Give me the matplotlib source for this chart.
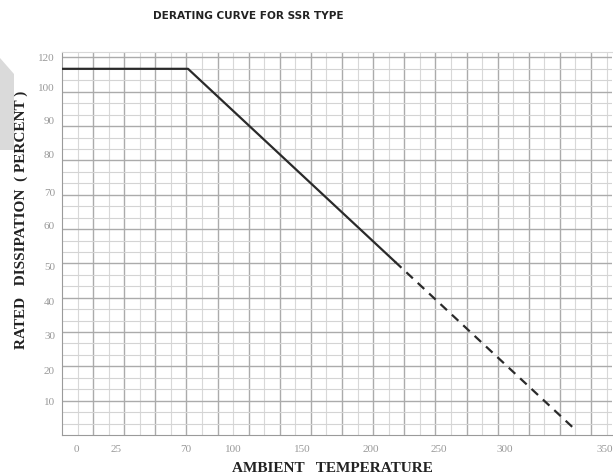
import matplotlib
matplotlib.use("Agg")
import matplotlib.pyplot as plt
from matplotlib.patches import Polygon
import numpy as np

# derating curve (axis units follow the printed grid)
temp_solid = [-10, 71, 204]
pct_solid = [106.7, 106.7, 50.5]
temp_dash = [204, 320]
pct_dash = [50.5, 1.5]

# printed tick labels and where they sit on the grid
x_labels = ["0", "25", "70", "100", "150", "200", "250", "300", "350"]
x_label_pos = [-1, 24.6, 69.5, 100.3, 144.5, 188.7, 232.3, 274.6, 338.7]
y_labels = ["10", "20", "30", "40", "50", "60", "70", "80", "90", "100", "120"]
y_label_pos = [9.9, 18.9, 28.9, 39, 49, 61, 70.8, 81.6, 91.5, 101.4, 110]

fig = plt.figure(figsize=(6.13, 4.74), dpi=100)

# faint watermark piece on the left edge of the scan
fig.patches.append(Polygon([(0, 1 - 58 / 474), (14 / 613, 1 - 74 / 474),
                            (14 / 613, 1 - 150 / 474), (0, 1 - 150 / 474)],
                           closed=True, transform=fig.transFigure,
                           facecolor="#dadada", edgecolor="none", zorder=0))

ax = fig.add_axes([62 / 613, 39 / 474, 550 / 613, 383 / 474])
ax.set_xlim(-10, 343.5)
ax.set_ylim(0, 111.6)
ax.set_facecolor("none")

# graph paper grid
for xv in np.arange(0, 344, 10):
    dark = int(round(xv / 10)) % 2 == 1
    ax.axvline(xv, color="#ababab" if dark else "#d8d8d8", lw=1.0 if dark else 0.8, zorder=1)
for yv in np.arange(10 / 3, 111.6, 10 / 3):
    dark = int(round(yv * 3 / 10)) % 3 == 0
    ax.axhline(yv, color="#ababab" if dark else "#d4d4d4", lw=1.0 if dark else 0.8, zorder=1)

ax.plot(temp_solid, pct_solid, color="#2a2a2a", lw=1.6, zorder=3)
ax.plot(temp_dash, pct_dash, color="#2a2a2a", lw=1.6, ls=(0, (4, 3)), zorder=3)

ax.set_xticks(x_label_pos)
ax.set_xticklabels(x_labels)
ax.set_yticks(y_label_pos)
ax.set_yticklabels(y_labels)
ax.tick_params(axis="y", length=0, labelsize=8, colors="#999999", pad=5)
ax.tick_params(axis="x", length=0, labelsize=8, colors="#999999", pad=7)
for lab in ax.get_xticklabels() + ax.get_yticklabels():
    lab.set_family("Liberation Serif")

for s in ["left", "bottom"]:
    ax.spines[s].set_color("#9a9a9a")
ax.spines["top"].set_color("#d8d8d8")
ax.spines["right"].set_visible(False)

fig.text(248 / 613, 1 - 16 / 474, "DERATING CURVE FOR SSR TYPE", ha="center", va="center",
         fontsize=7.6, fontweight="heavy", family="DejaVu Sans", color="#222222")
fig.text(332 / 613, 1 - 469 / 474, "AMBIENT   TEMPERATURE", ha="center", va="center",
         fontsize=11, fontweight="bold", family="Liberation Serif", color="#222222")
fig.text(21 / 613, 1 - 220 / 474, "RATED   DISSIPATION  ( PERCENT )", ha="center", va="center",
         rotation=90, fontsize=11, fontweight="bold", family="Liberation Serif", color="#222222")

fig.savefig("out.png", dpi=100)
